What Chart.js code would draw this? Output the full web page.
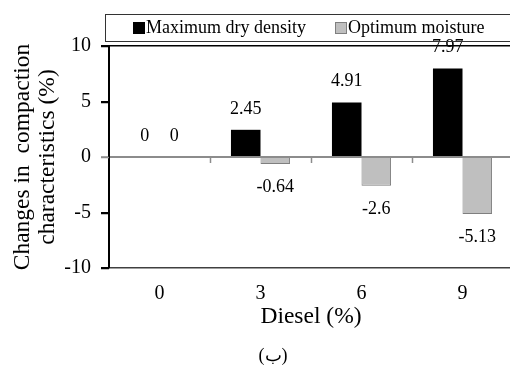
<!DOCTYPE html>
<html>
<head>
<meta charset="utf-8">
<script src="https://cdn.jsdelivr.net/npm/chart.js@4.4.1/dist/chart.umd.min.js"></script>
<style>
  html, body { margin: 0; padding: 0; background: #fff; overflow: hidden; }
  #wrap { width: 510px; height: 367px; overflow: hidden; }
</style>
</head>
<body>
<div id="wrap"><canvas id="compactionChart" width="513" height="367"></canvas></div>
<script>
// Diesel content (%) and change in compaction characteristics (%)
const dieselLevels = ['0', '3', '6', '9'];
const maxDryDensity = [0, 2.45, 4.91, 7.97];
const optimumMoisture = [0, -0.64, -2.6, -5.13];
const seriesNames = ['Maximum dry density', 'Optimum moisture'];
const yTicks = [-10, -5, 0, 5, 10];

const SERIF = "'Liberation Serif', 'Times New Roman', 'DejaVu Serif', serif";
Chart.defaults.font.family = SERIF;
Chart.defaults.color = '#000';

// value labels above / below each bar
const barLabels = {
    id: 'barLabels',
    afterDatasetsDraw(chart) {
        const ctx = chart.ctx;
        ctx.save();
        ctx.font = '18px ' + SERIF;
        ctx.fillStyle = '#000';
        ctx.textAlign = 'center';
        ctx.textBaseline = 'middle';
        chart.data.datasets.forEach((ds, di) => {
            const meta = chart.getDatasetMeta(di);
            meta.data.forEach((bar, i) => {
                const v = ds.data[i];
                const y = v < 0 ? bar.y + 23 : bar.y - 21;
                ctx.fillText(String(v), bar.x, y);
            });
        });
        ctx.restore();
    }
};

// outside y ticks, category ticks hanging from the zero line, legend box and caption
const decorations = {
    id: 'decorations',
    afterDraw(chart) {
        const ctx = chart.ctx;
        const x = chart.scales.x;
        const y = chart.scales.y;
        const y0 = y.getPixelForValue(0);
        ctx.save();

        ctx.lineWidth = 1.5;
        yTicks.forEach(v => {
            const py = Math.round(y.getPixelForValue(v)) + 0.5;
            ctx.strokeStyle = v === 0 ? '#8c8c8c' : '#000';
            ctx.beginPath();
            ctx.moveTo(y.right - 8, py);
            ctx.lineTo(y.right, py);
            ctx.stroke();
        });

        ctx.strokeStyle = '#8c8c8c';
        for (let i = 0; i < dieselLevels.length - 1; i++) {
            const px = Math.round((x.getPixelForValue(i) + x.getPixelForValue(i + 1)) / 2) + 0.5;
            ctx.beginPath();
            ctx.moveTo(px, y0);
            ctx.lineTo(px, y0 + 6);
            ctx.stroke();
        }

        // legend
        ctx.strokeStyle = '#333';
        ctx.lineWidth = 1;
        ctx.strokeRect(105.5, 14.5, 420, 27);
        ctx.font = '18px ' + SERIF;
        ctx.textBaseline = 'middle';
        ctx.textAlign = 'left';
        const items = [
            { x: 133, fill: '#000', stroke: '#000' },
            { x: 335, fill: '#bfbfbf', stroke: '#7f7f7f' }
        ];
        items.forEach((it, i) => {
            ctx.fillStyle = it.fill;
            ctx.fillRect(it.x, 22, 12, 12);
            ctx.strokeStyle = it.stroke;
            ctx.strokeRect(it.x + 0.5, 22.5, 11, 11);
            ctx.fillStyle = '#000';
            ctx.fillText(seriesNames[i], it.x + 13, 28.5);
        });

        // caption
        ctx.textAlign = 'center';
        ctx.font = '18px ' + SERIF;
        ctx.fillText('(ب)', 273, 356);
        ctx.restore();
    }
};

const gridColor = c => {
    const v = c.tick && c.tick.value;
    if (v === 0) return '#8c8c8c';
    if (v === 10) return '#000';
    if (v === -10) return '#404040';
    return 'rgba(0,0,0,0)';
};

new Chart(document.getElementById('compactionChart'), {
    type: 'bar',
    data: {
        labels: dieselLevels,
        datasets: [
            {
                label: seriesNames[0],
                data: maxDryDensity,
                backgroundColor: '#000',
                borderColor: '#000',
                borderWidth: 0,
                categoryPercentage: 0.585,
                barPercentage: 1.0
            },
            {
                label: seriesNames[1],
                data: optimumMoisture,
                backgroundColor: '#bfbfbf',
                borderColor: '#7f7f7f',
                borderWidth: 1,
                categoryPercentage: 0.585,
                barPercentage: 1.0
            }
        ]
    },
    options: {
        responsive: false,
        animation: false,
        devicePixelRatio: 1,
        layout: { padding: { top: 46, right: 0, bottom: 36, left: 0 } },
        plugins: {
            legend: { display: false },
            tooltip: { enabled: false }
        },
        scales: {
            x: {
                grid: { display: false, drawTicks: false },
                border: { display: false },
                ticks: { font: { size: 20 }, padding: 14, color: '#000' },
                title: {
                    display: true,
                    text: 'Diesel (%)',
                    font: { size: 23.5 },
                    color: '#000',
                    padding: { top: 0, bottom: 0 }
                },
                afterFit(scale) { scale.height = 63; }
            },
            y: {
                min: -10,
                max: 10,
                afterBuildTicks(scale) {
                    scale.ticks = yTicks.map(v => ({ value: v }));
                },
                grid: {
                    z: 1,
                    color: gridColor,
                    lineWidth: c => (c.tick && c.tick.value === 0 ? 2 : 1.5),
                    drawTicks: true,
                    tickColor: c => (c.tick && c.tick.value === 0 ? '#8c8c8c' : '#000'),
                    tickLength: 8,
                    tickWidth: 1.5
                },
                // border after the grid so its position is already computed
                border: { display: true, color: '#000', width: 2, z: 2 },
                ticks: { font: { size: 20 }, padding: 10, color: '#000' },
                title: {
                    display: true,
                    text: ['Changes in  compaction', 'characteristics (%)'],
                    font: { size: 23.5, lineHeight: 1.07 },
                    color: '#000',
                    padding: { top: 10, bottom: 0 }
                },
                afterFit(scale) { scale.width = 109; }
            }
        }
    },
    plugins: [barLabels, decorations]
});
</script>
</body>
</html>
